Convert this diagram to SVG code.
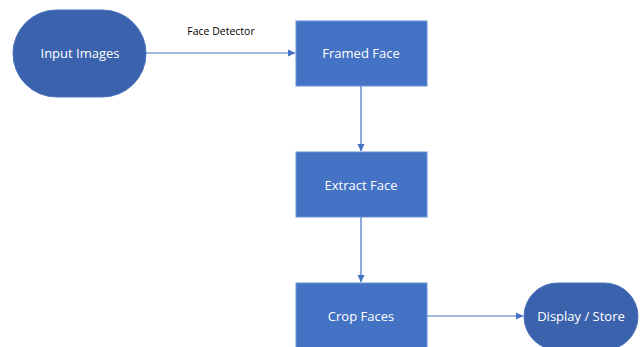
<svg xmlns="http://www.w3.org/2000/svg" width="641" height="347" viewBox="0 0 641 347">
<defs>
<style>
.box{fill:#4472C4;stroke:#6A93D6;stroke-width:1}
.term{fill:#3B63AD;stroke:#4A72BC;stroke-width:1}
.lbl{font-family:"Open Sans","Liberation Sans",sans-serif;font-size:13px;fill:#ffffff;text-anchor:middle;dominant-baseline:central}
.edge{stroke:#4472C4;stroke-width:1.2;fill:none}
.elbl{font-family:"Open Sans","Liberation Sans",sans-serif;font-size:10.5px;fill:#000000;text-anchor:middle}
</style>
<marker id="arr" markerWidth="8" markerHeight="8" refX="7" refY="4" orient="auto" markerUnits="userSpaceOnUse">
<path d="M0,0.5 L7.5,4 L0,7.5 Z" fill="#4472C4"/>
</marker>
</defs>
<rect width="641" height="347" fill="#ffffff"/>
<g id="connectors">
<line class="edge" x1="146" y1="53" x2="295" y2="53" marker-end="url(#arr)"/>
<text class="elbl" x="221" y="35">Face Detector</text>
<line class="edge" x1="361" y1="86" x2="361" y2="151" marker-end="url(#arr)"/>
<line class="edge" x1="361" y1="217" x2="361" y2="282" marker-end="url(#arr)"/>
<line class="edge" x1="427" y1="316" x2="523" y2="316" marker-end="url(#arr)"/>
</g>
<g id="input-images">
<rect class="term" x="13" y="10" width="133" height="87" rx="43.5" ry="43.5"/>
<text class="lbl" x="80" y="53">Input Images</text>
</g>
<g id="framed-face">
<rect class="box" x="296" y="21" width="131" height="65"/>
<text class="lbl" x="361" y="53">Framed Face</text>
</g>
<g id="extract-face">
<rect class="box" x="296" y="152" width="131" height="65"/>
<text class="lbl" x="361" y="185">Extract Face</text>
</g>
<g id="crop-faces">
<rect class="box" x="296" y="283" width="131" height="66"/>
<text class="lbl" x="361" y="316">Crop Faces</text>
</g>
<g id="display-store">
<rect class="term" x="524" y="283" width="114" height="67" rx="33.5" ry="33.5"/>
<text class="lbl" x="581" y="316">Display / Store</text>
</g>
</svg>
